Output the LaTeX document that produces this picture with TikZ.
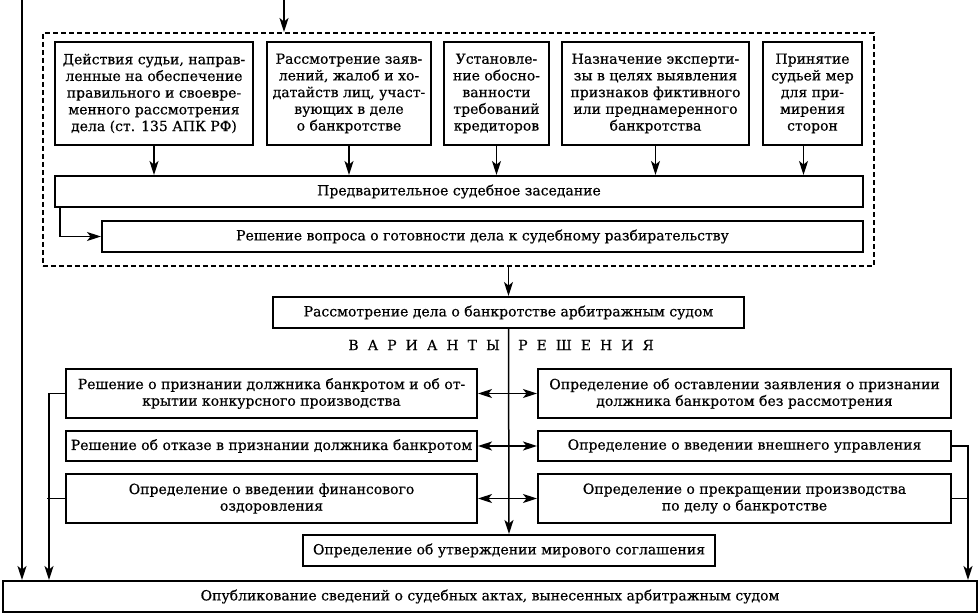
\documentclass[tikz,border=0pt]{standalone}
\usepackage{fontspec}
\setmainfont{DejaVu Serif}[FakeBold=0.5]
\usetikzlibrary{arrows.meta}
\newcommand{\boxfont}{\fontsize{14}{16.7}\selectfont}
\begin{document}
\begin{tikzpicture}[x=1pt,y=-1pt,
  box/.style={draw, line width=2pt, inner sep=0pt, align=center, font=\boxfont, anchor=north west},
  dashbox/.style={draw, line width=1.8pt, dash pattern=on 5pt off 3pt, inner sep=0pt, anchor=north west},
  conn/.style={line width=1.5pt},
  tip/.tip={Stealth[length=14pt,width=9pt,inset=3.5pt]},
  arr/.style={conn, -tip},
  darr/.style={conn, tip-tip},
  lbl/.style={font=\boxfont, inner sep=0pt}]
\useasboundingbox (0,0) rectangle (978,613);

% dashed frame
\node[dashbox, minimum width=831pt, minimum height=233pt] (dash) at (42,32) {};

% top boxes
\node[box, minimum width=198pt, minimum height=103pt] (b1) at (54,41)
  {Действия судьи, направ-\\ленные на обеспечение\\правильного и своевре-\\менного рассмотрения\\дела (ст. 135 АПК РФ)};
\node[box, minimum width=164pt, minimum height=103pt] (b2) at (266,41)
  {Рассмотрение заяв-\\лений, жалоб и хо-\\датайств лиц, участ-\\вующих в деле\\о банкротстве};
\node[box, minimum width=105pt, minimum height=103pt] (b3) at (443,41)
  {Установле-\\ние обосно-\\ванности\\требований\\кредиторов};
\node[box, minimum width=187pt, minimum height=103pt] (b4) at (561,41)
  {Назначение эксперти-\\зы в целях выявления\\признаков фиктивного\\или преднамеренного\\банкротства};
\node[box, minimum width=99pt, minimum height=103pt] (b5) at (762,41)
  {Принятие\\судьей мер\\для при-\\мирения\\сторон};

\node[box, minimum width=808pt, minimum height=31pt] (pre) at (54,175)
  {Предварительное судебное заседание};
\node[box, minimum width=761pt, minimum height=31pt] (dec) at (101,220)
  {Решение вопроса о готовности дела к судебному разбирательству};

\node[box, minimum width=471pt, minimum height=31pt] (ras) at (272,296)
  {Рассмотрение дела о банкротстве арбитражным судом};

\node[lbl, anchor=east] (var) at (500,345) {В\hspace{9pt}А\hspace{9pt}Р\hspace{9pt}И\hspace{9pt}А\hspace{9pt}Н\hspace{9pt}Т\hspace{9pt}Ы};
\node[lbl, anchor=west] (res) at (518,345) {Р\hspace{9pt}Е\hspace{9pt}Ш\hspace{9pt}Е\hspace{9pt}Н\hspace{9pt}И\hspace{9pt}Я};

\node[box, minimum width=411pt, minimum height=49pt] (l1) at (65,368)
  {Решение о признании должника банкротом и об от-\\крытии конкурсного производства};
\node[box, minimum width=411pt, minimum height=30pt] (l2) at (65,430)
  {Решение об отказе в признании должника банкротом};
\node[box, minimum width=411pt, minimum height=49pt] (l3) at (65,473)
  {Определение о введении финансового\\оздоровления};

\node[box, minimum width=413pt, minimum height=49pt] (r1) at (537,368)
  {Определение об оставлении заявления о признании\\должника банкротом без рассмотрения};
\node[box, minimum width=413pt, minimum height=30pt] (r2) at (537,430)
  {Определение о введении внешнего управления};
\node[box, minimum width=413pt, minimum height=49pt] (r3) at (537,473)
  {Определение о прекращении производства\\по делу о банкротстве};

\node[box, minimum width=412pt, minimum height=31pt] (mir) at (302,534)
  {Определение об утверждении мирового соглашения};

\node[box, minimum width=974pt, minimum height=31pt] (bot) at (2,580)
  {Опубликование сведений о судебных актах, вынесенных арбитражным судом};

% connectors
\coordinate (top) at (284,0);
\coordinate (ol) at (22,0);
\coordinate (lc) at (49,0);
\coordinate (rc) at (968,0);

\draw[arr] (top) -- (top |- dash.north);
\draw[arr] (ol) -- (ol |- bot.north);

\foreach \b in {b1,b2,b3,b4} \draw[arr] (\b.south) -- (\b.south |- pre.north);
\draw[arr] ([xshift=-9pt]b5.south) -- ([xshift=-9pt]b5.south |- pre.north);
\draw[arr] ([xshift=6pt]pre.south west) |- (dec.west);

\draw[arr] (ras.north |- dash.south) -- (ras.north);
\draw[arr] (ras.south) -- (mir.north);

\draw[darr] (l1.east) -- (r1.west);
\draw[darr] (l2.east) -- (r2.west);
\draw[darr] (l3.east) -- (r3.west);

\draw[arr] (l1.west) -| (lc |- bot.north);
\draw[conn] (l3.west) -- ([xshift=-2pt]lc |- l3.west);
\draw[arr] (r2.east) -| (rc |- bot.north);
\draw[conn] (r3.east) -- (rc |- r3.east);
\end{tikzpicture}
\end{document}
